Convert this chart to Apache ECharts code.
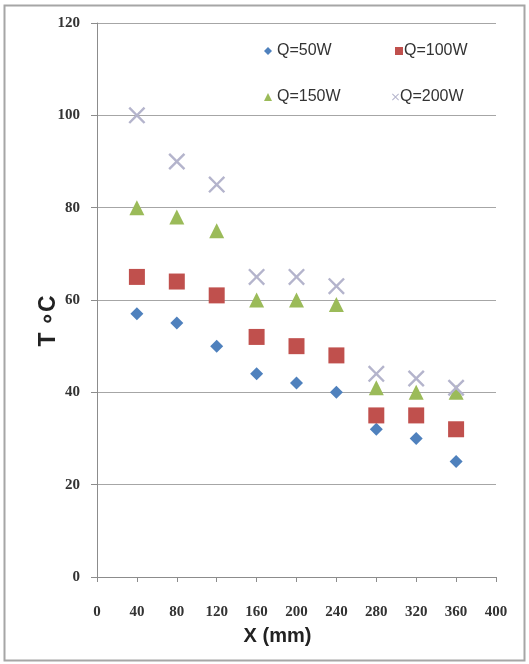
<!DOCTYPE html>
<html><head><meta charset="utf-8">
<script src="https://cdn.jsdelivr.net/npm/echarts@6/dist/echarts.min.js"></script>
<style>html,body{margin:0;padding:0;background:#fff}#c{width:529px;height:664px}</style>
</head><body><div id="c"></div>
<script>
const xValues = [40, 80, 120, 160, 200, 240, 280, 320, 360];
const seriesNames = ['Q=50W', 'Q=100W', 'Q=150W', 'Q=200W'];
const q50 = [57, 55, 50, 44, 42, 40, 32, 30, 25];
const q100 = [65, 64, 61, 52, 50, 48, 35, 35, 32];
const q150 = [80, 78, 75, 60, 60, 59, 41, 40, 40];
const q200 = [100, 90, 85, 65, 65, 63, 44, 43, 41];

const colors = ['#4F81BD', '#C0504D', '#9BBB59', '#B4B4CC'];
const crossPath = 'path://M0,1L1,0L5,4L9,0L10,1L6,5L10,9L9,10L5,6L1,10L0,9L4,5Z';
const symbols = ['diamond', 'rect', 'triangle', crossPath];
const sizes = [13, 16, 15, 17];
const allData = [q50, q100, q150, q200];

const chart = echarts.init(document.getElementById('c'));
const legendPos = [[259, 38], [390, 38], [259, 84], [387, 84]];
const legendPad = [0, -4, 0, -4];
const legends = seriesNames.map((n, i) => ({
  data: [n], left: legendPos[i][0], top: legendPos[i][1],
  itemWidth: i === 3 ? 7 : 8, itemHeight: i === 3 ? 7 : 8, itemGap: 0,
  textStyle: {fontFamily: 'Liberation Sans', fontSize: 16, color: '#333', padding: [0, 0, 0, legendPad[i]]},
  icon: symbols[i]
}));

chart.setOption({
  animation: false,
  graphic: [{type: 'rect', shape: {x: 4.5, y: 5.5, width: 520, height: 655}, style: {fill: 'none', stroke: '#A6A6A6', lineWidth: 2}, z: -1}],
  legend: legends,
  grid: {left: 97, right: 33, top: 23, bottom: 87},
  xAxis: {
    type: 'value', min: 0, max: 400, interval: 40,
    name: 'X (mm)', nameLocation: 'middle', nameGap: 49, nameMoveOverlap: false,
    nameTextStyle: {fontFamily: 'Liberation Sans', fontWeight: 'bold', fontSize: 20, color: '#222', padding: [0, 38, 0, 0]},
    axisLine: {lineStyle: {color: '#8C8C8C', width: 1}},
    axisTick: {show: true, length: 5, lineStyle: {color: '#8C8C8C'}},
    axisLabel: {fontFamily: 'Liberation Serif', fontWeight: 'bold', fontSize: 15, color: '#333', margin: 28},
    splitLine: {show: false}
  },
  yAxis: {
    type: 'value', min: 0, max: 120, interval: 20,
    name: 'T \u2218C', nameLocation: 'middle', nameGap: 37, nameRotate: 90, nameMoveOverlap: false,
    nameTextStyle: {fontFamily: 'Liberation Sans', fontWeight: 'bold', fontSize: 23, color: '#222', padding: [0, 42, 0, 0]},
    axisLine: {show: true, lineStyle: {color: '#8C8C8C', width: 1}},
    axisTick: {show: true, length: 6, lineStyle: {color: '#8C8C8C'}},
    axisLabel: {fontFamily: 'Liberation Serif', fontWeight: 'bold', fontSize: 15, color: '#333', margin: 17},
    splitLine: {lineStyle: {color: '#A6A6A6', width: 1}}
  },
  series: allData.map((d, i) => ({
    name: seriesNames[i], type: 'scatter',
    symbol: symbols[i], symbolSize: sizes[i],
    itemStyle: {color: colors[i], opacity: 1},
    data: d.map((v, j) => [xValues[j], v])
  }))
});
</script></body></html>
